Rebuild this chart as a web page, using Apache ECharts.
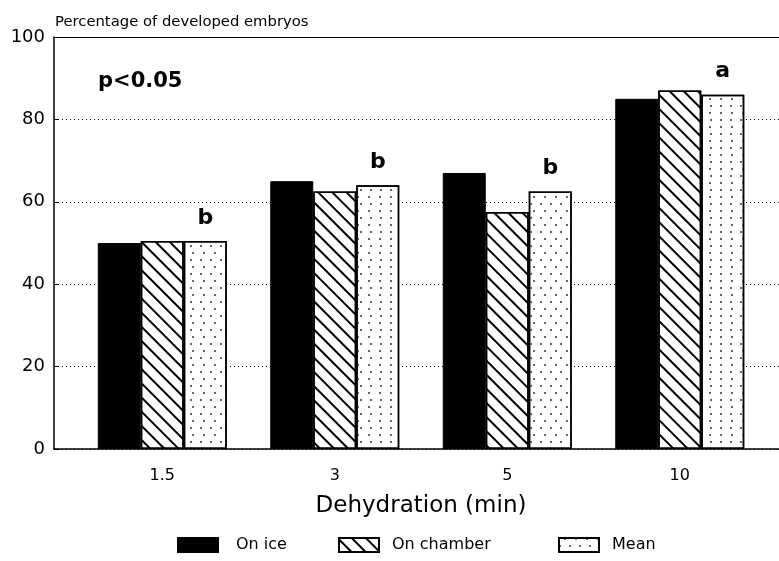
<!DOCTYPE html>
<html>
<head>
<meta charset="utf-8">
<script src="https://cdn.jsdelivr.net/npm/echarts@6/dist/echarts.min.js"></script>
<style>
  html, body { margin: 0; padding: 0; background: #fff; }
  #chart { width: 779px; height: 561px; }
</style>
</head>
<body>
<div id="chart"></div>
<script>
(function () {
  'use strict';

  // data
  var categories = ['1.5', '3', '5', '10'];
  var onIce = [50, 65, 67, 85];
  var onChamber = [50.5, 62.5, 57.5, 87];
  var mean = [50.5, 64, 62.5, 86];
  var letters = ['b', 'b', 'b', 'a'];
  var seriesNames = ['On ice', 'On chamber', 'Mean'];
  var yTicks = [0, 20, 40, 60, 80, 100];

  var FONT = 'DejaVu Sans';
  var chart = echarts.init(document.getElementById('chart'));

  var hatch = {
    symbol: 'rect',
    color: '#000',
    dashArrayX: [1, 0],
    dashArrayY: [1.4, 7.6],
    rotation: Math.PI / 4
  };
  var dots = {
    symbol: 'rect',
    color: '#666',
    symbolSize: 1,
    dashArrayX: [[1.3, 7.7], [0, 4.5, 1.3, 3.2]],
    dashArrayY: [1.3, 5]
  };

  // one legend per item so each can sit where the original puts it
  var legendLefts = [177, 338, 558];
  var legends = seriesNames.map(function (name, i) {
    return {
      left: legendLefts[i], top: 537, padding: 0,
      icon: 'rect',
      itemWidth: 40, itemHeight: 14,
      textStyle: { fontFamily: FONT, fontSize: 16, color: '#000', padding: [0, 0, 0, i === 0 ? 13 : 8] },
      data: [name]
    };
  });

  var option = {
    animation: false,
    backgroundColor: '#fff',
    textStyle: { fontFamily: FONT, color: '#000' },
    title: [
      {
        text: 'Percentage of developed embryos',
        left: 50, top: 10,
        textStyle: { fontFamily: FONT, fontSize: 14.8, fontWeight: 'normal', color: '#000' }
      },
      {
        text: 'p<0.05',
        left: 93, top: 66,
        textStyle: { fontFamily: FONT, fontSize: 21, fontWeight: 'bold', color: '#000' }
      }
    ],
    legend: legends,
    grid: [
      { left: 54, right: 0, top: 37, bottom: 112 },
      { left: 76, right: 13, top: 37, bottom: 112 }
    ],
    xAxis: [
      {
        // frame of the plot
        type: 'category', gridIndex: 0, data: categories,
        axisLine: { lineStyle: { color: '#000', width: 1.5 } },
        axisTick: { show: false }, axisLabel: { show: false }
      },
      {
        type: 'category', gridIndex: 0, position: 'top', data: categories,
        axisLine: { lineStyle: { color: '#000', width: 1.2 } },
        axisTick: { show: false }, axisLabel: { show: false }
      },
      {
        type: 'category', gridIndex: 1, data: categories,
        name: 'Dehydration (min)', nameLocation: 'middle', nameGap: 46,
        nameTextStyle: { fontFamily: FONT, fontSize: 23, color: '#000' },
        axisLine: { show: false }, axisTick: { show: false },
        axisLabel: { margin: 19, fontFamily: FONT, fontSize: 16, color: '#000' }
      }
    ],
    yAxis: [
      {
        type: 'value', gridIndex: 0, min: yTicks[0], max: yTicks[yTicks.length - 1], interval: 20,
        axisLine: { show: true, lineStyle: { color: '#000', width: 1.5 } },
        axisTick: { show: true, inside: true, length: 5, lineStyle: { color: '#000' } },
        axisLabel: { margin: 9, fontFamily: FONT, fontSize: 18, color: '#000' },
        splitLine: { show: true, lineStyle: { color: '#000', type: [1, 3], width: 1 } }
      },
      {
        type: 'value', gridIndex: 1, min: 0, max: 100, show: false
      }
    ],
    series: [
      {
        name: seriesNames[0], type: 'bar', xAxisIndex: 2, yAxisIndex: 1,
        barWidth: 43, barGap: '0%',
        itemStyle: { color: '#000', borderColor: '#000', borderWidth: 1 },
        data: onIce
      },
      {
        name: seriesNames[1], type: 'bar', xAxisIndex: 2, yAxisIndex: 1,
        barWidth: 43, barGap: '0%',
        itemStyle: { color: '#fff', borderColor: '#000', borderWidth: 1.5, decal: hatch },
        data: onChamber
      },
      {
        name: seriesNames[2], type: 'bar', xAxisIndex: 2, yAxisIndex: 1,
        barWidth: 43, barGap: '0%',
        itemStyle: { color: '#fff', borderColor: '#000', borderWidth: 1.5, decal: dots },
        label: {
          show: true, position: 'top', distance: 12,
          fontFamily: FONT, fontSize: 22, fontWeight: 'bold', color: '#000',
          formatter: function (p) { return letters[p.dataIndex]; }
        },
        data: mean
      }
    ]
  };

  chart.setOption(option);
})();
</script>
</body>
</html>
